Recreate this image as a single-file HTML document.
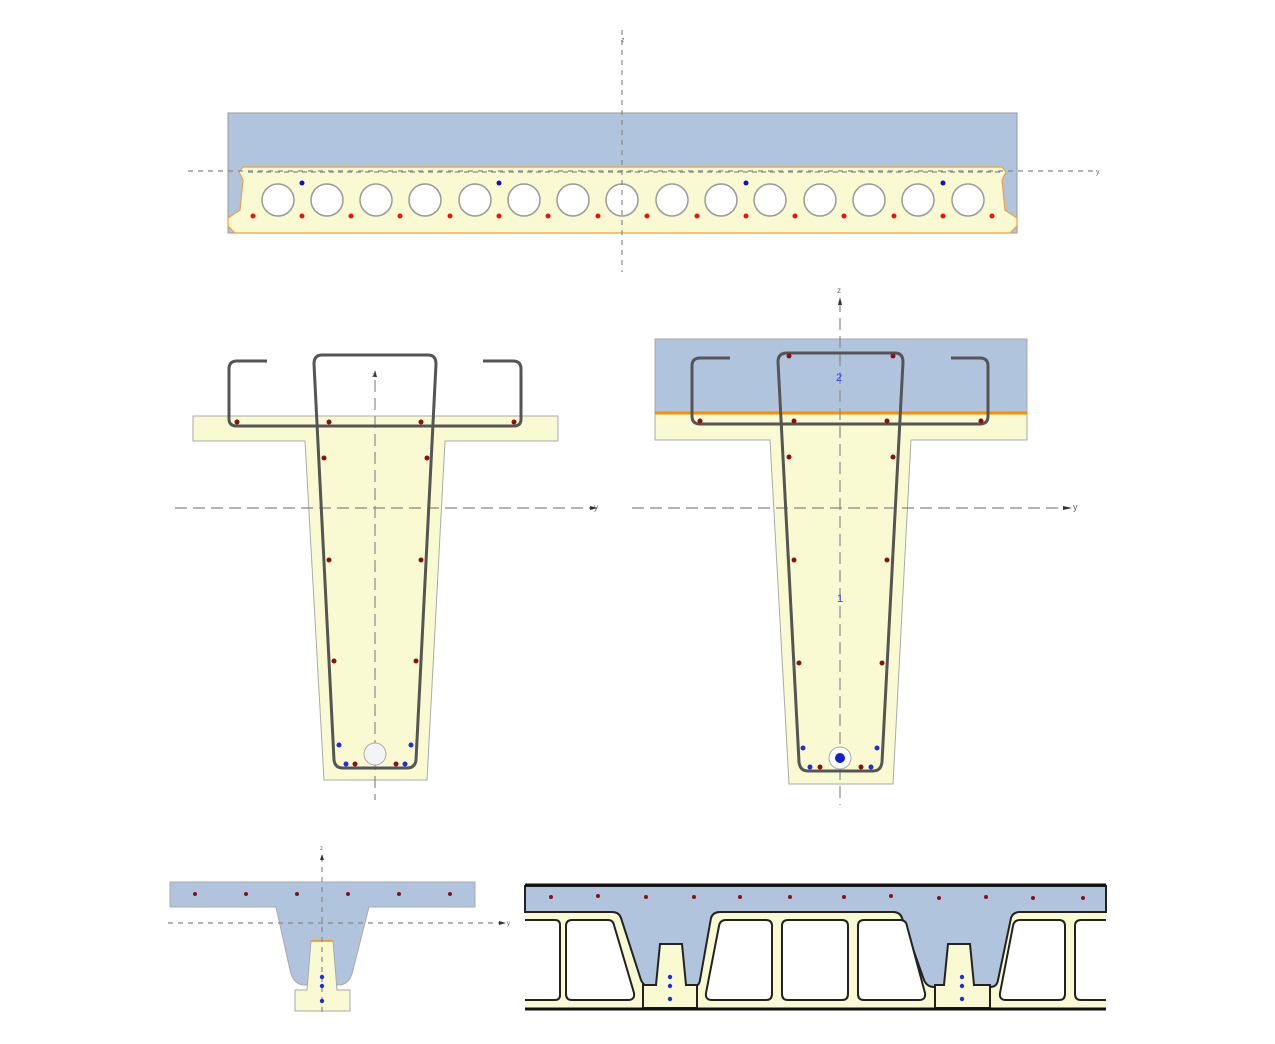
<!DOCTYPE html><html><head><style>body{margin:0;background:#fff}svg{display:block}</style></head><body>
<svg width="1275" height="1044" viewBox="0 0 1275 1044" xmlns="http://www.w3.org/2000/svg" font-family="Liberation Sans, sans-serif">
<!-- TOP SLAB -->
<rect x="228" y="113" width="789" height="120" fill="#b0c4de" stroke="#999"/>
<path d="M243,167 L1002,167 L1006,172 L1002,180 L1005,210 L1017,218 L1017,226 L1010,233 L235,233 L228,226 L228,218 L240,210 L243,180 L239,172 Z" fill="#fafad2" stroke="#f0a040" stroke-width="1.2"/>
<line x1="248" y1="172" x2="1000" y2="172" stroke="#999" stroke-dasharray="5,4" stroke-width="1.5"/>
<g stroke="#999" stroke-width="1.5" fill="#fff">
<circle cx="278" cy="200" r="16"/><circle cx="327" cy="200" r="16"/><circle cx="376" cy="200" r="16"/><circle cx="425" cy="200" r="16"/><circle cx="475" cy="200" r="16"/><circle cx="524" cy="200" r="16"/><circle cx="573" cy="200" r="16"/><circle cx="622" cy="200" r="16"/><circle cx="672" cy="200" r="16"/><circle cx="721" cy="200" r="16"/><circle cx="770" cy="200" r="16"/><circle cx="820" cy="200" r="16"/><circle cx="869" cy="200" r="16"/><circle cx="918" cy="200" r="16"/><circle cx="968" cy="200" r="16"/>
</g>
<g fill="#f01010">
<circle cx="253" cy="216" r="2.5"/><circle cx="302" cy="216" r="2.5"/><circle cx="351" cy="216" r="2.5"/><circle cx="400" cy="216" r="2.5"/><circle cx="450" cy="216" r="2.5"/><circle cx="499" cy="216" r="2.5"/><circle cx="548" cy="216" r="2.5"/><circle cx="598" cy="216" r="2.5"/><circle cx="647" cy="216" r="2.5"/><circle cx="697" cy="216" r="2.5"/><circle cx="746" cy="216" r="2.5"/><circle cx="795" cy="216" r="2.5"/><circle cx="844" cy="216" r="2.5"/><circle cx="894" cy="216" r="2.5"/><circle cx="943" cy="216" r="2.5"/><circle cx="992" cy="216" r="2.5"/>
</g>
<g fill="#1010d0"><circle cx="302" cy="183" r="2.5"/><circle cx="499" cy="183" r="2.5"/><circle cx="746" cy="183" r="2.5"/><circle cx="943" cy="183" r="2.5"/></g>
<g stroke="#888" stroke-width="1.2" stroke-dasharray="5,5">
<line x1="622" y1="30" x2="622" y2="272"/><line x1="188" y1="171" x2="1095" y2="171"/></g>
<text x="621" y="42" font-size="7" fill="#666">z</text><text x="1096" y="174" font-size="7" fill="#666">y</text>

<!-- MIDDLE LEFT T -->
<path d="M193,416 L558,416 L558,441 L445,441 L427,780 L324,780 L305,441 L193,441 Z" fill="#fafad2" stroke="#aaa"/>
<g stroke="#888" stroke-width="1.2" stroke-dasharray="12,6" fill="none">
<line x1="375" y1="380" x2="375" y2="800"/><line x1="175" y1="508" x2="590" y2="508"/></g>
<path d="M375,370 l-2,7 h4 z M598,508 l-8,-2 v4 z" fill="#333"/>
<text x="372" y="377" font-size="7" fill="#666">z</text><text x="594" y="510" font-size="8" fill="#666">y</text>
<g fill="none" stroke="#555" stroke-width="3">
<path d="M267,361 H237 Q229,361 229,369 V419 Q229,426 237,426 H514 Q521,426 521,419 V369 Q521,361 513,361 H483"/>
<path d="M322,355 H428 Q436,355 436,364 L416,760 Q415,768 407,768 H343 Q335,768 334,760 L314,364 Q314,355 322,355 Z"/>
</g>
<circle cx="375" cy="754" r="11" fill="#f4f4f4" stroke="#aaa"/>
<g fill="#8b1010">
<circle cx="237" cy="422" r="2.5"/><circle cx="329" cy="422" r="2.5"/><circle cx="421" cy="422" r="2.5"/><circle cx="514" cy="422" r="2.5"/>
<circle cx="324" cy="458" r="2.5"/><circle cx="427" cy="458" r="2.5"/><circle cx="329" cy="560" r="2.5"/><circle cx="421" cy="560" r="2.5"/><circle cx="334" cy="661" r="2.5"/><circle cx="416" cy="661" r="2.5"/><circle cx="355" cy="764" r="2.5"/><circle cx="396" cy="764" r="2.5"/></g>
<g fill="#1a30e0"><circle cx="339" cy="745" r="2.5"/><circle cx="411" cy="745" r="2.5"/><circle cx="346" cy="764" r="2.5"/><circle cx="405" cy="764" r="2.5"/></g>

<!-- MIDDLE RIGHT T -->
<rect x="655" y="339" width="372" height="74" fill="#b0c4de" stroke="#aaa"/>
<path d="M655,413 L1027,413 L1027,440 L911,440 L893,784 L789,784 L770,440 L655,440 Z" fill="#fafad2" stroke="#aaa"/>
<line x1="655" y1="413" x2="1027" y2="413" stroke="#ff8c00" stroke-width="3"/>
<g stroke="#888" stroke-width="1.2" stroke-dasharray="12,6" fill="none">
<line x1="840" y1="300" x2="840" y2="805"/><line x1="632" y1="508" x2="1065" y2="508"/></g>
<path d="M840,297 l-2,8 h4 z M1072,508 l-9,-2 v4 z" fill="#333"/>
<text x="837" y="293" font-size="8" fill="#666">z</text><text x="1073" y="510" font-size="9" fill="#666">y</text>
<text x="836" y="381" font-size="11" fill="#3344ee">2</text><text x="837" y="602" font-size="11" fill="#3344ee">1</text>
<g fill="none" stroke="#555" stroke-width="3">
<path d="M730,358 H700 Q692,358 692,366 V416 Q692,424 700,424 H980 Q988,424 988,416 V366 Q988,358 980,358 H951"/>
<path d="M787,353 H895 Q903,353 903,362 L882,762 Q881,771 873,771 H808 Q800,771 799,762 L778,362 Q778,353 787,353 Z"/>
</g>
<circle cx="840" cy="758" r="11" fill="#fff" stroke="#aaa"/><circle cx="840" cy="758" r="5" fill="#1020d0"/>
<g fill="#8b1010">
<circle cx="700" cy="421" r="2.5"/><circle cx="794" cy="421" r="2.5"/><circle cx="887" cy="421" r="2.5"/><circle cx="981" cy="421" r="2.5"/>
<circle cx="789" cy="356" r="2.5"/><circle cx="893" cy="356" r="2.5"/>
<circle cx="789" cy="457" r="2.5"/><circle cx="893" cy="457" r="2.5"/><circle cx="794" cy="560" r="2.5"/><circle cx="887" cy="560" r="2.5"/><circle cx="799" cy="663" r="2.5"/><circle cx="882" cy="663" r="2.5"/><circle cx="820" cy="767" r="2.5"/><circle cx="861" cy="767" r="2.5"/></g>
<g fill="#1a30e0"><circle cx="803" cy="748" r="2.5"/><circle cx="877" cy="748" r="2.5"/><circle cx="810" cy="767" r="2.5"/><circle cx="871" cy="767" r="2.5"/></g>

<!-- BOTTOM LEFT -->
<path d="M170,882 H475 V907 H369 L353,970 Q350,985 338,985 H305 Q293,985 290,970 L276,907 H170 Z" fill="#b0c4de" stroke="#aaa"/>
<path d="M311,941 H333 L337,990 H350 V1011 H295 V990 H307 Z" fill="#fafad2" stroke="#aaa"/>
<line x1="311" y1="941" x2="333" y2="941" stroke="#ff8c00" stroke-width="1.5"/>
<g stroke="#888" stroke-width="1.2" stroke-dasharray="5,5" fill="none">
<line x1="322" y1="857" x2="322" y2="1015"/><line x1="168" y1="923" x2="500" y2="923"/></g>
<path d="M322,854 l-2,6 h4 z M506,923 l-7,-2 v4 z" fill="#333"/>
<text x="320" y="850" font-size="6" fill="#666">z</text><text x="507" y="925" font-size="6" fill="#666">y</text>
<g fill="#8b1010"><circle cx="195" cy="894" r="2"/><circle cx="246" cy="894" r="2"/><circle cx="297" cy="894" r="2"/><circle cx="348" cy="894" r="2"/><circle cx="399" cy="894" r="2"/><circle cx="450" cy="894" r="2"/></g>
<g fill="#1a30e0"><circle cx="322" cy="977" r="2.2"/><circle cx="322" cy="986" r="2.2"/><circle cx="322" cy="1001" r="2.2"/></g>

<!-- BOTTOM RIGHT -->
<rect x="525" y="885" width="581" height="123" fill="#fafad2"/>
<path d="M525,912 H612 Q619,912 621,918 L641,980 Q644,987 651,987 H692 Q699,987 700,980 L711,918 Q713,912 720,912 H893 Q900,912 902,918 L924,980 Q927,987 934,987 H990 Q997,987 998,980 L1011,918 Q1013,912 1020,912 H1106 V886 H525 Z" fill="#b0c4de" stroke="#222" stroke-width="2"/>
<g fill="#fff" stroke="#222" stroke-width="2">
<path d="M525,920 H555 Q560,920 560,925 V995 Q560,1000 555,1000 H525"/>
<path d="M572,920 H608 Q613,920 614,925 L634,993 Q635,1000 628,1000 H572 Q566,1000 566,994 V926 Q566,920 572,920 Z"/>
<path d="M726,920 H766 Q772,920 772,926 V994 Q772,1000 766,1000 H712 Q705,1000 706,993 L719,926 Q720,920 726,920 Z"/>
<path d="M788,920 H842 Q848,920 848,926 V994 Q848,1000 842,1000 H788 Q782,1000 782,994 V926 Q782,920 788,920 Z"/>
<path d="M864,920 H900 Q906,920 907,926 L925,993 Q926,1000 919,1000 H864 Q858,1000 858,994 V926 Q858,920 864,920 Z"/>
<path d="M1020,920 H1059 Q1065,920 1065,926 V994 Q1065,1000 1059,1000 H1006 Q999,1000 1000,993 L1013,926 Q1014,920 1020,920 Z"/>
<path d="M1106,920 H1081 Q1075,920 1075,926 V994 Q1075,1000 1081,1000 H1106"/>
</g>
<g fill="#fafad2" stroke="#222" stroke-width="2">
<path d="M660,944 H682 L686,985 H697 V1008 H643 V985 H656 Z"/>
<path d="M948,944 H970 L974,985 H990 V1008 H935 V985 H944 Z"/>
</g>
<line x1="525" y1="885" x2="1106" y2="885" stroke="#111" stroke-width="3"/>
<line x1="525" y1="1009" x2="1106" y2="1009" stroke="#111" stroke-width="3"/>
<g fill="#8b1010"><circle cx="551" cy="897" r="2"/><circle cx="598" cy="896" r="2"/><circle cx="646" cy="897" r="2"/><circle cx="694" cy="897" r="2"/><circle cx="740" cy="897" r="2"/><circle cx="790" cy="897" r="2"/><circle cx="844" cy="897" r="2"/><circle cx="891" cy="896" r="2"/><circle cx="939" cy="898" r="2"/><circle cx="986" cy="897" r="2"/><circle cx="1033" cy="898" r="2"/><circle cx="1083" cy="898" r="2"/></g>
<g fill="#1a30e0"><circle cx="670" cy="977" r="2.2"/><circle cx="670" cy="986" r="2.2"/><circle cx="670" cy="999" r="2.2"/><circle cx="962" cy="977" r="2.2"/><circle cx="962" cy="986" r="2.2"/><circle cx="962" cy="999" r="2.2"/></g>
</svg>
</body></html>
